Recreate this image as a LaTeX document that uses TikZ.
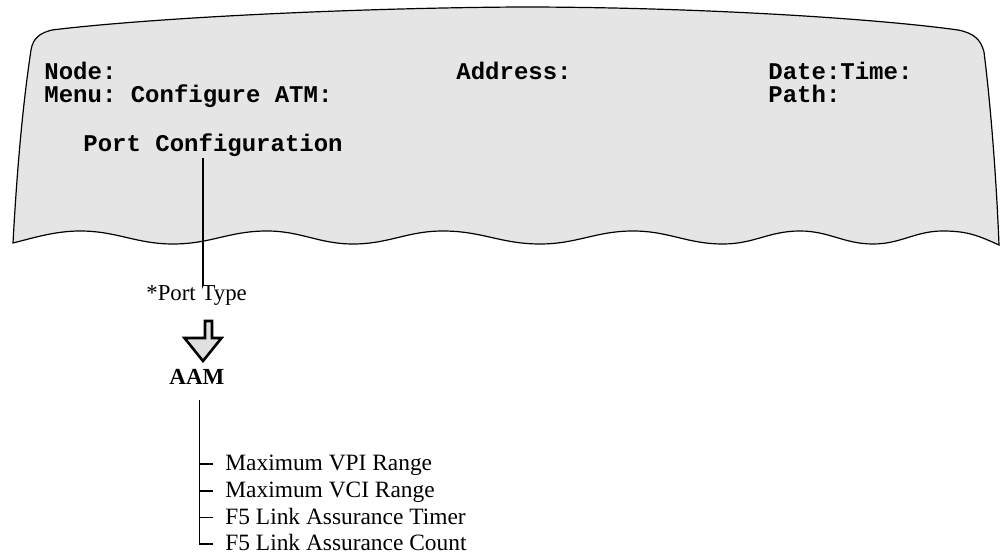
\documentclass[tikz,border=0pt]{standalone}
\usepackage{fontspec}
\setmainfont{Liberation Serif}
\newfontfamily\screenfont{Liberation Mono}
\begin{document}
\begin{tikzpicture}[x=0.5pt,y=-0.5pt,
  screentext/.style={anchor=base west,inner sep=0pt,font=\screenfont\bfseries\fontsize{12}{12}\selectfont\frenchspacing},
  label/.style={anchor=base west,inner sep=0pt,font=\fontsize{11.4}{13}\selectfont},
  item/.style={anchor=west,inner xsep=6pt,inner ysep=0pt,text height=0.662em,text depth=0pt,
    font=\fontsize{11.7}{13}\selectfont},
  screen/.style={draw=black,line width=0.6pt,fill=black!10},
  connector/.style={draw=black,line width=1pt},
  branch/.style={draw=black,line width=0.6pt},
  blockarrow/.style={draw=black,line width=1.3pt,fill=black!12,line join=miter}]
\useasboundingbox (0,0) rectangle (1000,555);

% torn screen panel
\path[screen]
  (13,243) .. controls (18,150) and (25,90) .. (31,50)
  .. controls (33,38) and (40,33) .. (52,30)
  .. controls (150,18) and (350,8) .. (520,7)
  .. controls (700,7) and (880,19) .. (958,30)
  .. controls (974,33) and (981,40) .. (984,52)
  .. controls (990,100) and (996,170) .. (999,245)
  .. controls +(-20,-9) and +(25,0) .. (943,231)
  .. controls +(-28,0) and +(28,0) .. (873,244)
  .. controls +(-29,0) and +(29,0) .. (800,231)
  .. controls +(-31,0) and +(31,0) .. (723,244)
  .. controls +(-36,0) and +(36,0) .. (633,231)
  .. controls +(-37,0) and +(37,0) .. (540,244)
  .. controls +(-39,0) and +(39,0) .. (443,231)
  .. controls +(-36,0) and +(36,0) .. (353,244)
  .. controls +(-34,0) and +(34,0) .. (267,231)
  .. controls +(-38,0) and +(38,0) .. (173,244)
  .. controls +(-37,0) and +(37,0) .. (80,231)
  .. controls +(-25,0) and +(20,-5) .. (13,243) -- cycle;

% screen header
\node[screentext] (node)     at (44,80)  {Node:};
\node[screentext] (menu)     at (44,103) {Menu: Configure ATM:};
\node[screentext] (address)  at (456,80) {Address:};
\node[screentext] (datetime) at (768,80) {Date:Time:};
\node[screentext] (path)     at (768,103) {Path:};
\node[screentext] (pc)       at (83,152) {Port Configuration};

% field and selection
\node[label] (pt) at (146,301) {*Port Type};
\node[label,font=\bfseries\fontsize{11.5}{13}\selectfont] (aam) at (169,385) {AAM};

\coordinate (pcdrop) at (202.5,158);
\draw[connector] (pcdrop) -- (pcdrop |- pt.north);

% selection arrow
\path[blockarrow] (205,321) -- (212,321) -- (212,338) -- (221.5,338) -- (203,361)
  -- (184.5,338) -- (205,338) -- cycle;

% parameters under AAM
\node[item] (i1) at (213,464) {Maximum VPI Range};
\node[item] (i2) at (213,491) {Maximum VCI Range};
\node[item] (i3) at (213,517.5) {F5 Link Assurance Timer};
\node[item] (i4) at (213,544) {F5 Link Assurance Count};

\coordinate (trunk) at (199.5,400);
\draw[branch] (trunk) |- (i4.west);
\draw[branch] (trunk |- i1.west) -- (i1.west);
\draw[branch] (trunk |- i2.west) -- (i2.west);
\draw[branch] (trunk |- i3.west) -- (i3.west);
\end{tikzpicture}
\end{document}
